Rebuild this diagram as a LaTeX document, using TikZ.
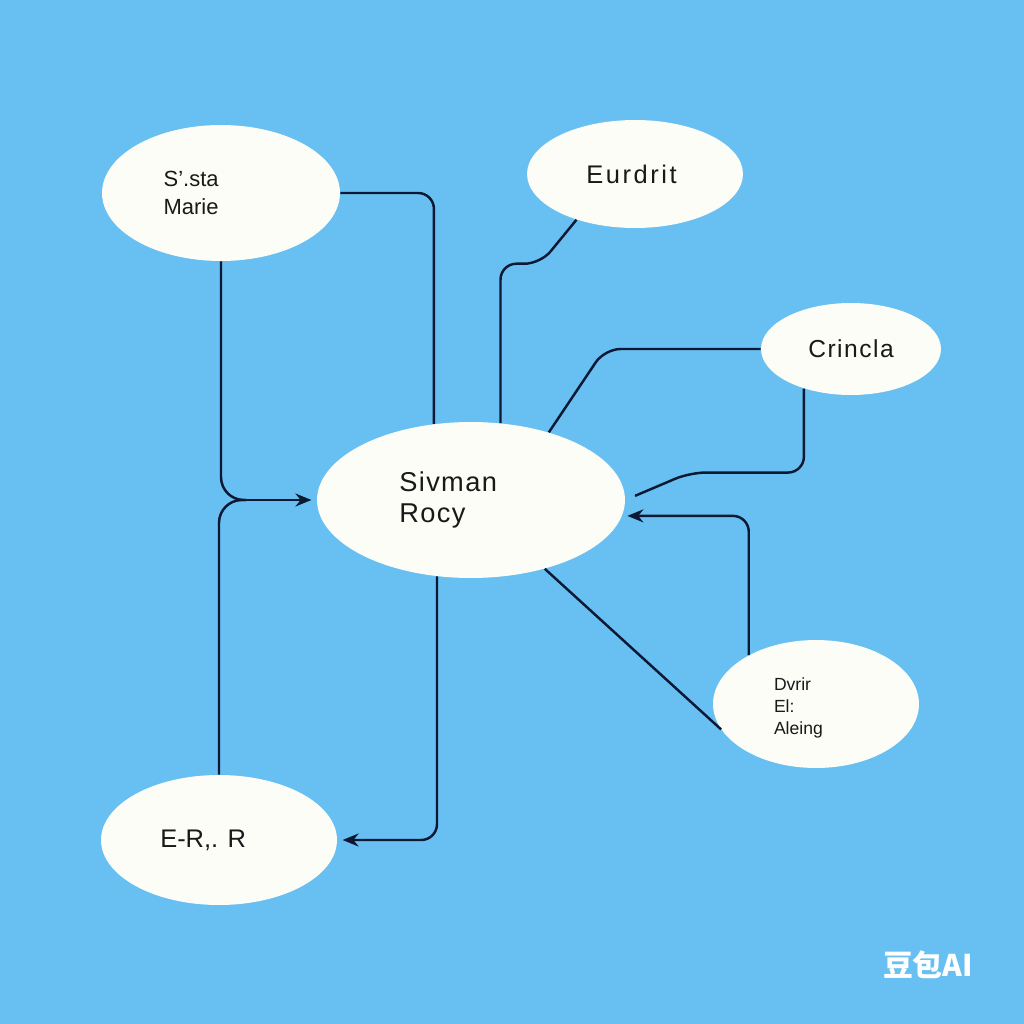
\documentclass[tikz,border=0pt]{standalone}
\usepackage{fontspec}
\setmainfont{Liberation Sans}
\newfontfamily\cjk{Noto Sans CJK SC}
\usepackage{tikz}
\usetikzlibrary{shapes.geometric, arrows.meta, calc}
\usepackage{xcolor}
\definecolor{skyback}{RGB}{104,192,242}
\definecolor{ink}{RGB}{12,24,52}
\definecolor{paper}{RGB}{253,253,248}

\begin{document}
\begin{tikzpicture}[
  x=0.02cm, y=-0.02cm,
  bubble/.style={ellipse, fill=paper, inner sep=0pt},
  lbl/.style={align=left, text=black!90, font=\fontsize{13}{17}\selectfont},
  link/.style={draw=ink, line width=1.4pt, rounded corners=9pt},
  arr/.style={link, -{Stealth[length=3.2mm, width=2.6mm]}, shorten >=3pt}
]
\fill[skyback] (0,0) rectangle (1024,1024);
% ----- bubbles -----
\node[bubble, minimum width=4.76cm, minimum height=2.72cm,
  label={[lbl, xshift=-17pt, font=\fontsize{12.5}{15.5}\selectfont]center:{S'.sta\\Marie}}] (sysa) at (221,193) {};
\node[bubble, minimum width=4.32cm, minimum height=2.16cm,
  label={[lbl, xshift=-2pt, font=\fontsize{14.5}{15}\selectfont\addfontfeature{LetterSpace=10}]center:{Eurdrit}}] (eurdrit) at (635,174) {};
\node[bubble, minimum width=3.6cm, minimum height=1.84cm,
  label={[lbl, font=\fontsize{14}{15}\selectfont\addfontfeature{LetterSpace=6}]center:{Crincla}}] (crincla) at (851,349) {};
\node[bubble, minimum width=6.16cm, minimum height=3.12cm,
  label={[lbl, xshift=-13pt, font=\fontsize{15.5}{17.5}\selectfont\addfontfeature{LetterSpace=5}]center:{Sivman\\Rocy}}] (core) at (471,500) {};
\node[bubble, minimum width=4.12cm, minimum height=2.56cm,
  label={[lbl, xshift=-10pt, yshift=-2pt, font=\fontsize{10}{12.5}\selectfont]center:{Dvrir\\El:\\Aleing}}] (dvrir) at (816,704) {};
\node[bubble, minimum width=4.72cm, minimum height=2.6cm,
  label={[lbl, xshift=-9pt, font=\fontsize{14.5}{17}\selectfont]center:{E-R,. R}}] (err) at (219,840) {};
\coordinate (fork) at ($(core.west)+(-70,0)$);
% ----- connectors -----
\draw[link] (sysa.east) -| (core.116);
\draw[link] (eurdrit.218) -- ++(-36,44) -| (core.69);
\draw[link] (crincla.west) -- ++(-156,0) -- (core.41);
\draw[link, shorten >=6pt] (crincla.220) -- ++(0,84) -- ++(-114,0) -- (core.east);
\draw[arr] (dvrir.144) |- (core.-6);
\draw[link] (core.-43) -- (dvrir.195);
\draw[link, rounded corners=13pt] (sysa.south) |- (fork);
\draw[link, rounded corners=13pt] (err.north) |- (fork);
\draw[arr] (fork) -- (core.west);
\draw[arr] (core.246) |- (err.east);
% ----- mark -----
\node[font=\cjk\bfseries\fontsize{17}{17}\selectfont, text=white] (mark) at (928,965) {豆包AI};
\end{tikzpicture}
\end{document}
